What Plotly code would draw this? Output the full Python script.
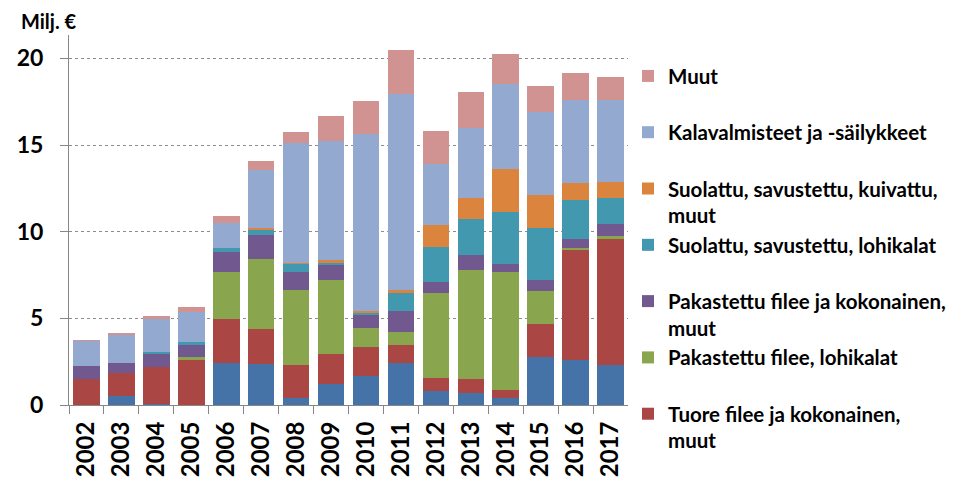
import plotly.graph_objects as go

years = [str(y) for y in range(2002, 2018)]

tuore_lohi   = [0.00, 0.52, 0.08, 0.00, 2.42, 2.38, 0.42, 1.19, 1.69, 2.42, 0.83, 0.71, 0.42, 2.79, 2.60, 2.31]
tuore_muut   = [1.50, 1.31, 2.13, 2.60, 2.54, 2.00, 1.89, 1.77, 1.64, 1.02, 0.75, 0.81, 0.46, 1.88, 6.32, 7.25]
pak_lohi     = [0.00, 0.00, 0.00, 0.19, 2.71, 4.04, 4.31, 4.25, 1.11, 0.79, 4.88, 6.27, 6.81, 1.91, 0.14, 0.19]
pak_muut     = [0.77, 0.61, 0.75, 0.69, 1.18, 1.39, 1.05, 0.85, 0.75, 1.17, 0.66, 0.86, 0.46, 0.65, 0.54, 0.71]
suol_lohi    = [0.00, 0.00, 0.12, 0.17, 0.21, 0.31, 0.50, 0.19, 0.16, 1.12, 2.00, 2.08, 3.00, 3.00, 2.25, 1.48]
suol_muut    = [0.00, 0.00, 0.00, 0.00, 0.00, 0.09, 0.02, 0.10, 0.07, 0.11, 1.26, 1.23, 2.45, 1.89, 0.96, 0.93]
valmisteet   = [1.44, 1.64, 1.88, 1.70, 1.44, 3.33, 6.91, 6.88, 10.23, 11.33, 3.54, 4.04, 4.94, 4.78, 4.79, 4.71]
muut         = [0.04, 0.07, 0.17, 0.32, 0.38, 0.54, 0.65, 1.44, 1.89, 2.50, 1.89, 2.06, 1.71, 1.48, 1.53, 1.34]

series = [
    ("Tuore filee ja kokonainen, lohikalat", tuore_lohi, "#4572A7", False),
    ("Tuore filee ja kokonainen,<br>muut", tuore_muut, "#AA4643", True),
    ("Pakastettu filee, lohikalat<br>\u00a0", pak_lohi, "#89A54E", True),
    ("Pakastettu filee ja kokonainen,<br>muut", pak_muut, "#71588F", True),
    ("Suolattu, savustettu, lohikalat<br>\u00a0", suol_lohi, "#4198AF", True),
    ("Suolattu, savustettu, kuivattu,<br>muut", suol_muut, "#DB843D", True),
    ("Kalavalmisteet ja -säilykkeet<br>\u00a0", valmisteet, "#93A9CF", True),
    ("Muut<br>\u00a0", muut, "#D19392", True),
]

fig = go.Figure()
for i, (name, vals, color, show) in enumerate(series):
    fig.add_trace(go.Bar(
        x=years, y=vals, name=name, marker=dict(color=color, line=dict(width=0)),
        showlegend=show, legendgroup=f"g{i}",
    ))

fig.update_layout(
    barmode="stack",
    bargap=0.24,
    width=949, height=469,
    margin=dict(l=61, r=329, t=27, b=72, autoexpand=False),
    paper_bgcolor="white", plot_bgcolor="white",
    font=dict(family="Lato", size=20, color="black", weight="bold"),
    legend=dict(
        x=1.0, xanchor="left", y=0.943, yanchor="top",
        traceorder="reversed", valign="top", tracegroupgap=0,
        font=dict(size=20.5, weight="bold"), itemwidth=30, maxheight=420,
    ),
    xaxis=dict(
        type="category", tickangle=-90, showline=True, linecolor="#868686", linewidth=1,
        ticks="outside", tickson="boundaries", ticklen=8, tickcolor="#868686",
        tickfont=dict(size=24, weight="bold"), showgrid=False, automargin=False,
        ticklabelstandoff=6,
    ),
    yaxis=dict(
        range=[0, 21.35], dtick=5, tick0=0, showline=True, linecolor="#868686", linewidth=1,
        ticks="outside", ticklen=8, tickcolor="#868686",
        showgrid=True, gridcolor="#8c8c8c", griddash="dot", gridwidth=1,
        zeroline=False, tickfont=dict(size=23, weight="bold"), automargin=False,
        ticklabelstandoff=12,
    ),
    annotations=[dict(
        text="Milj. €", xref="paper", yref="paper", x=-0.09, y=1.038, xanchor="left", yanchor="middle",
        showarrow=False, font=dict(size=20, weight="bold"),
    )],
)

fig.write_html("out.html")
